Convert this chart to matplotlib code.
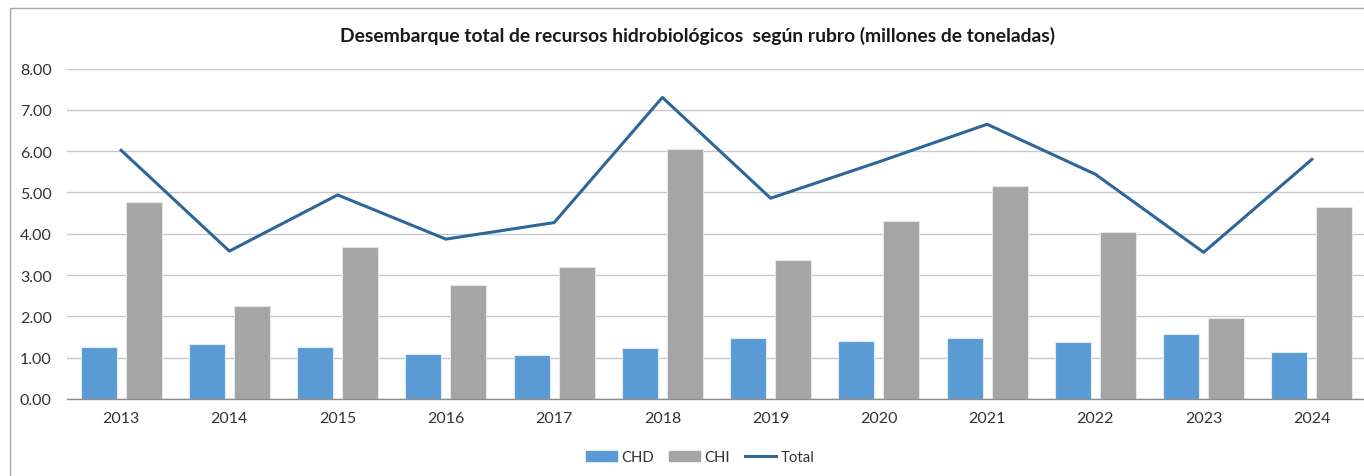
import numpy as np
import matplotlib
matplotlib.use('Agg')
import matplotlib.pyplot as plt
from matplotlib.patches import Rectangle
from matplotlib.lines import Line2D

years = ['2013', '2014', '2015', '2016', '2017', '2018', '2019', '2020', '2021', '2022', '2023', '2024']
chd = [1.25, 1.32, 1.25, 1.08, 1.06, 1.23, 1.47, 1.40, 1.47, 1.39, 1.58, 1.14]
chi = [4.76, 2.25, 3.68, 2.77, 3.19, 6.06, 3.37, 4.31, 5.16, 4.04, 1.96, 4.64]
total = [6.02, 3.58, 4.94, 3.87, 4.27, 7.30, 4.86, 5.74, 6.65, 5.44, 3.55, 5.80]

plt.rcParams['font.family'] = ['Lato', 'DejaVu Sans']

W, H = 1364, 477
fig = plt.figure(figsize=(W / 100, H / 100), dpi=100)

# chart area frame (cropped on the right and bottom)
fig.patches.append(Rectangle((10 / W, -0.1), 1.2, (H - 9) / H + 0.1,
                             transform=fig.transFigure, fill=False,
                             edgecolor='#A6A6A6', linewidth=1.0))

left, right, top, bottom = 67, 1366, 69.5, 400
ax = fig.add_axes([left / W, 1 - bottom / H, (right - left) / W, (bottom - top) / H])

x = np.arange(len(years))
bw = 0.333
off = 0.208
ax.bar(x - off, chd, bw, color='#5B9BD5', edgecolor='#DDEBF7', linewidth=0.8, label='CHD', zorder=2)
ax.bar(x + off, chi, bw, color='#A5A5A5', edgecolor='#E6E6E6', linewidth=0.8, label='CHI', zorder=2)
ax.plot(x, total, color='#2E6699', linewidth=2.2, label='Total', zorder=3)

ax.set_xlim(-0.5, 11.5)
ax.set_ylim(0, 8)
ax.set_yticks(np.arange(0, 9, 1))
ax.set_yticklabels(['%.2f' % v for v in np.arange(0, 9, 1)])
ax.set_xticks(x)
ax.set_xticklabels(years)
ax.grid(axis='y', color='#C8C8C8', linewidth=1.0, zorder=0)
ax.set_axisbelow(True)
for s in ['top', 'right', 'left']:
    ax.spines[s].set_visible(False)
ax.spines['bottom'].set_color('#8C8C8C')
ax.spines['bottom'].set_linewidth(1.0)
ax.tick_params(axis='both', length=0, labelsize=11.5, colors='#333333')
ax.tick_params(axis='y', pad=11)
ax.tick_params(axis='x', pad=9)

fig.text(698 / W, 1 - 36 / H, 'Desembarque total de recursos hidrobiológicos  según rubro (millones de toneladas)',
         ha='center', va='center', fontsize=13.9, fontweight='bold', color='#1A1A1A')

handles = [Rectangle((0, 0), 1, 1, color='#5B9BD5'),
           Rectangle((0, 0), 1, 1, color='#A5A5A5'),
           Line2D([0], [0], color='#2E6699', linewidth=2.2)]
fig.legend(handles, ['CHD', 'CHI', 'Total'], loc='center', bbox_to_anchor=(700 / W, 1 - 458 / H),
           ncol=3, frameon=False, fontsize=10.7, handlelength=2.1, handleheight=0.7,
           handletextpad=0.3, columnspacing=1.0, labelcolor='#333333')

fig.savefig('out.png', dpi=100)
